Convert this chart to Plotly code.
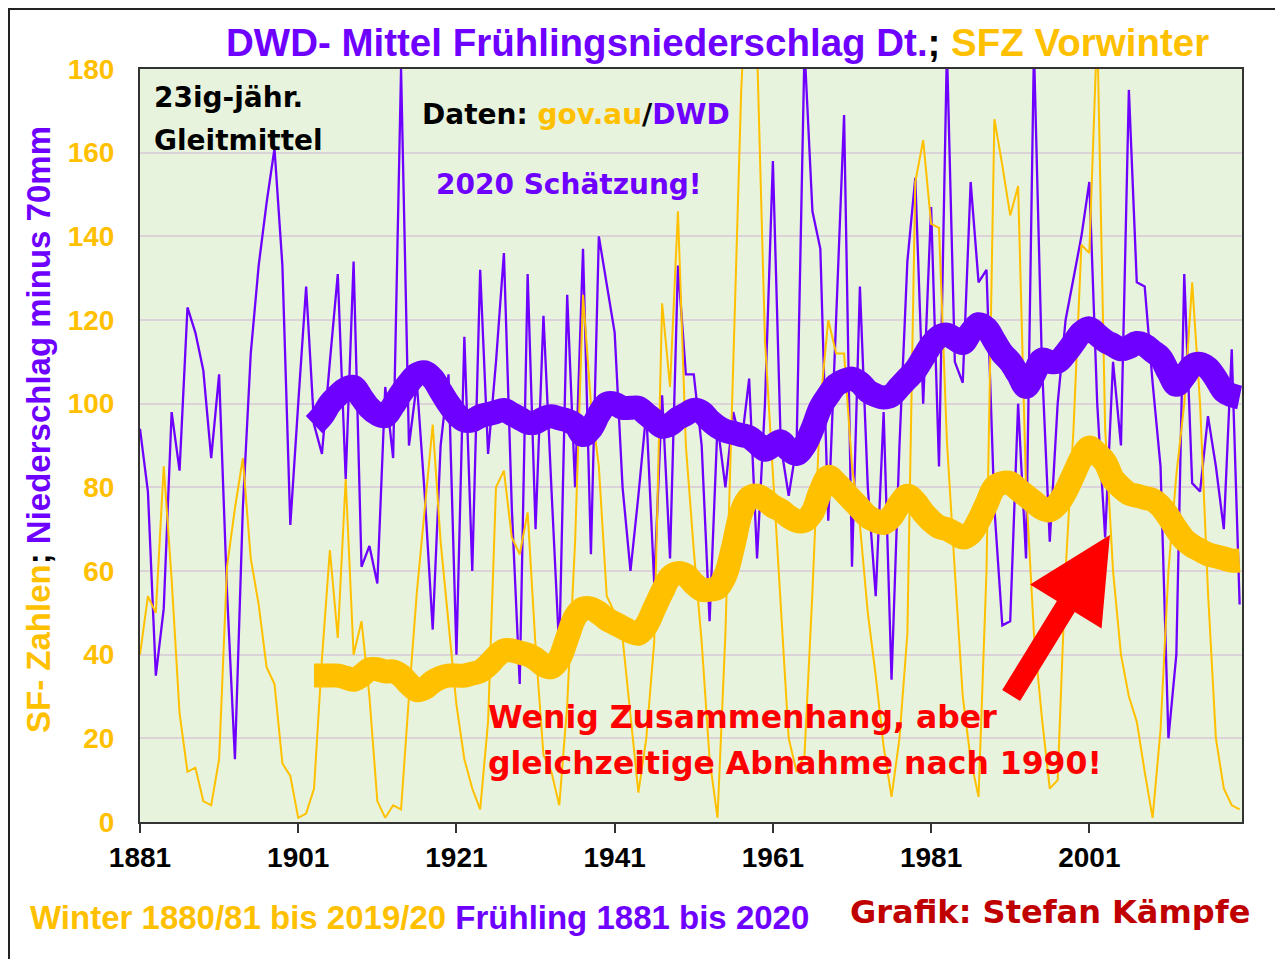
import plotly.graph_objects as go

years = list(range(1881, 2021))

# Winter sunspot numbers (SFZ Vorwinter), winter 1880/81 .. 2019/20
sfz = [40, 54, 50, 85, 58, 26, 12, 13, 5, 4,
       15, 61, 75, 87, 63, 52, 37, 33, 14, 11,
       1, 2, 8, 39, 65, 44, 82, 40, 48, 30,
       5, 1, 4, 3, 30, 55, 75, 95, 67, 48,
       28, 15, 8, 3, 24, 80, 84, 68, 64, 74,
       42, 16, 12, 4, 28, 67, 126, 100, 85, 54,
       50, 44, 25, 7, 20, 43, 124, 104, 146, 90,
       65, 43, 15, 1, 45, 110, 175, 215, 185, 115,
       83, 50, 20, 12, 16, 55, 100, 120, 112, 112,
       85, 71, 50, 35, 18, 6, 20, 45, 153, 163,
       143, 142, 91, 60, 30, 15, 6, 60, 168, 157,
       145, 152, 80, 45, 25, 8, 10, 60, 94, 138,
       136, 190, 94, 60, 40, 30, 24, 12, 1, 22,
       60, 83, 100, 129, 100, 55, 20, 8, 4, 3]

# Spring precipitation Germany minus 70 mm, 1881 .. 2020
nied = [94, 79, 35, 51, 98, 84, 123, 117, 108, 87,
        107, 55, 15, 75, 112, 133, 148, 161, 133, 71,
        100, 128, 95, 88, 110, 131, 82, 134, 61, 66,
        57, 104, 87, 180, 90, 105, 78, 46, 90, 107,
        40, 116, 60, 132, 88, 110, 136, 75, 33, 131,
        70, 121, 80, 41, 126, 80, 137, 64, 140, 128,
        117, 80, 60, 78, 98, 57, 102, 63, 133, 107,
        107, 90, 48, 95, 80, 98, 90, 106, 63, 100,
        158, 90, 78, 90, 185, 146, 137, 72, 120, 169,
        61, 128, 80, 54, 98, 34, 90, 134, 154, 100,
        147, 85, 185, 110, 105, 153, 129, 132, 75, 47,
        48, 100, 63, 185, 110, 67, 100, 120, 130, 140,
        153, 100, 68, 110, 90, 175, 129, 128, 105, 85,
        20, 40, 131, 81, 79, 97, 85, 70, 113, 52]

# 23-year moving averages, 1903 .. 2020
years_ma = list(range(1903, 2021))
sfz_ma = [35, 35, 35, 35, 34.5, 34, 35, 36.5, 36.5, 36,
          36, 35, 33, 31.5, 32, 33.5, 34.5, 35, 35, 35,
          35.5, 36, 37.5, 39.5, 41, 41, 40.5, 40, 39, 37.5,
          37, 39, 44, 49, 51, 51, 50, 48.5, 47.5, 46.5,
          45.5, 45, 47, 51, 55, 58.5, 59.5, 59, 57, 55.5,
          55.5, 56, 59, 66, 74, 77.5, 78, 77, 75.5, 74.5,
          73, 72, 72, 74, 79, 82.5, 81, 79, 77, 75,
          73, 72, 71.5, 73, 76, 78, 76.5, 74, 72, 70.5,
          70, 69, 68, 69, 72, 76, 80, 81, 81, 79.5,
          78, 76.5, 75, 74.5, 76, 79, 83, 87, 89.5, 88,
          86, 82, 80, 78.5, 78, 77.5, 77, 75.5, 73, 70,
          67.5, 66, 65, 64, 63.5, 63, 62.5, 62.5]
nied_ma = [95, 97, 100, 102, 103.5, 104, 101.5, 99, 97.5, 97,
           99.5, 102.5, 105, 107, 107.5, 106, 103, 100, 97.5, 96,
           96, 97, 97.5, 98, 98.5, 97.5, 96.5, 95.5, 95.5, 96.5,
           97, 96.5, 96, 95, 92.5, 94, 97.5, 100, 100, 99,
           99, 99, 97.5, 96, 94.5, 95, 96.5, 97.5, 98.5, 98,
           96, 94.5, 93.5, 93, 92.5, 92, 90.5, 89, 90, 91,
           89, 88, 90, 94, 99, 102, 104.5, 105.5, 106, 105,
           103, 102, 101.5, 102, 104, 106, 108, 111, 114, 116,
           116.5, 115.5, 114.5, 117, 119, 118, 115, 112, 110, 107,
           104, 107, 110.5, 110, 110, 112, 114.5, 117, 118, 116.5,
           115, 114, 113, 113.5, 114.5, 114, 112.5, 111, 107.5, 104.5,
           106.5, 109, 109.5, 108.5, 106, 103, 102, 101.5]

PURPLE = "#6E00FF"
YELLOW = "#FFC000"
RED = "#FF0000"
DARKRED = "#C00000"
FONT = "Liberation Sans, Arial, sans-serif"
HEAVY = "DejaVu Sans, Verdana, sans-serif"

OFF = 8  # page offset of the figure (body margin)
W, H = 1283 - OFF, 959 - OFF
# plot area in page pixels
L, R, T, B = 140, 1242, 69, 822


def px(x):
    return (x - L) / (R - L)


def py(y):
    return (B - y) / (B - T)


fig = go.Figure()
fig.add_trace(go.Scatter(x=years, y=nied, mode="lines",
                         line=dict(color=PURPLE, width=2.3), hoverinfo="skip"))
fig.add_trace(go.Scatter(x=years, y=sfz, mode="lines",
                         line=dict(color=YELLOW, width=2), hoverinfo="skip"))
fig.add_trace(go.Scatter(x=years_ma, y=nied_ma, mode="lines",
                         line=dict(color=PURPLE, width=24, shape="spline", smoothing=1),
                         hoverinfo="skip"))
fig.add_trace(go.Scatter(x=years_ma, y=sfz_ma, mode="lines",
                         line=dict(color=YELLOW, width=24, shape="spline", smoothing=1),
                         hoverinfo="skip"))

ann = []


def text(x, y, t, size, family=FONT, xanchor="left", angle=0):
    ann.append(dict(x=px(x), y=py(y), xref="paper", yref="paper", text=t,
                    showarrow=False, xanchor=xanchor, yanchor="middle",
                    textangle=angle, font=dict(family=family, size=size, color="black")))


text(224, 42, f"<b><span style='color:{PURPLE}'>DWD- Mittel Frühlingsniederschlag Dt.</span>; "
              f"<span style='color:{YELLOW}'>SFZ Vorwinter</span></b>", 38.5)
text(38, 430, f"<b><span style='color:{YELLOW}'>SF- Zahlen</span>; "
              f"<span style='color:{PURPLE}'>Niederschlag minus 70mm</span></b>", 33,
     xanchor="center", angle=-90)
text(152, 98, "<b>23ig-jähr.</b>", 28, HEAVY)
text(152, 140, "<b>Gleitmittel</b>", 28, HEAVY)
text(420, 115, f"<b>Daten: <span style='color:{YELLOW}'>gov.au</span>/"
               f"<span style='color:{PURPLE}'>DWD</span></b>", 28, HEAVY)
text(434, 184, f"<b><span style='color:{PURPLE}'>2020 Schätzung!</span></b>", 28, HEAVY)
text(486, 717, f"<b><span style='color:{RED}'>Wenig Zusammenhang, aber</span></b>", 31.5, HEAVY)
text(486, 763, f"<b><span style='color:{RED}'>gleichzeitige Abnahme nach 1990!</span></b>", 31.5, HEAVY)
text(28, 918, f"<b><span style='color:{YELLOW}'>Winter 1880/81 bis 2019/20</span> "
              f"<span style='color:{PURPLE}'>Frühling 1881 bis 2020</span></b>", 33)
text(848, 912, f"<b><span style='color:{DARKRED}'>Grafik: Stefan Kämpfe</span></b>", 32, HEAVY)

# red arrow
ann.append(dict(x=2003.6, y=68.6, ax=1991.0, ay=29.9, xref="x", yref="y",
                axref="x", ayref="y", text="", showarrow=True, arrowhead=2,
                arrowsize=0.8, arrowwidth=21, arrowcolor=RED, standoff=0))

fig.update_layout(
    width=W, height=H,
    margin=dict(l=L - OFF, r=W - (R - OFF), t=T - OFF, b=H - (B - OFF)),
    paper_bgcolor="white",
    plot_bgcolor="#E8F3DD",
    showlegend=False,
    annotations=ann,
    shapes=[dict(type="rect", xref="paper", yref="paper",
                 x0=px(OFF + 1), x1=px(1400), y0=py(1100), y1=py(OFF + 1),
                 line=dict(color="#222222", width=2), layer="below")],
)
fig.update_xaxes(range=[1881, 2020.3], tickvals=[1881, 1901, 1921, 1941, 1961, 1981, 2001],
                 ticks="outside", ticklen=9, tickwidth=2, tickcolor="#333333",
                 showgrid=False, zeroline=False, showline=True, mirror=True,
                 linecolor="#333333", linewidth=2,
                 tickfont=dict(family=FONT, size=28, color="black", weight="bold"))
fig.update_yaxes(range=[0, 180], dtick=20, ticks="", showgrid=True,
                 gridcolor="#DCD3D8", gridwidth=1.5, zeroline=False,
                 showline=True, mirror=True, linecolor="#333333", linewidth=2,
                 ticklabelstandoff=18,
                 tickfont=dict(family=FONT, size=28, color=YELLOW, weight="bold"))

fig.write_html("out.html")
